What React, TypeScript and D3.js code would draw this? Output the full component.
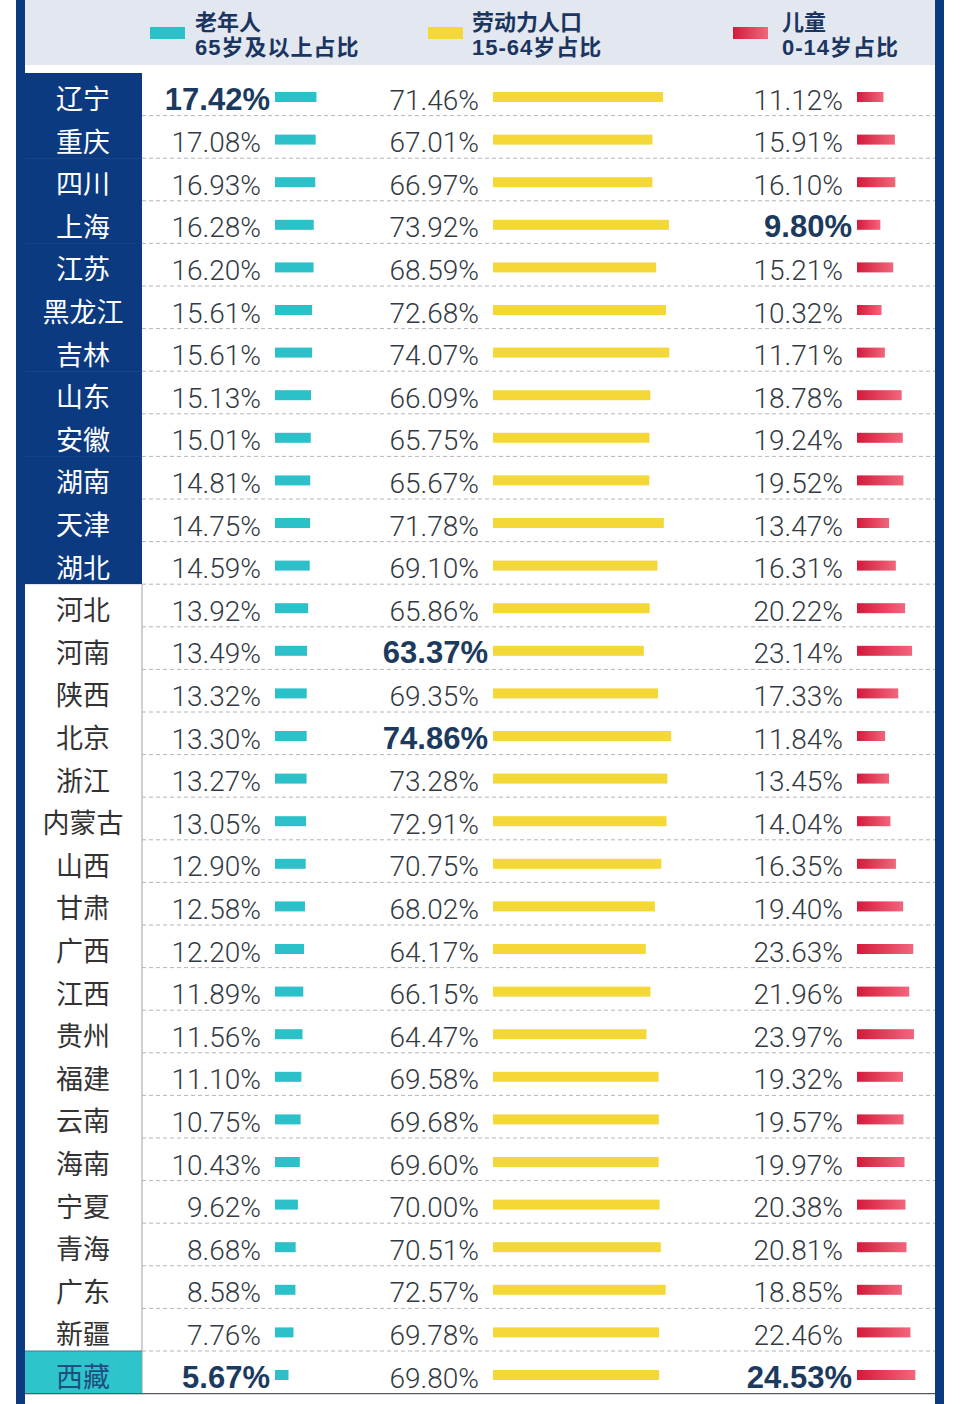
import React from "react";
import * as d3 from "d3";

const provinces = ["辽宁","重庆","四川","上海","江苏","黑龙江","吉林","山东","安徽","湖南","天津","湖北","河北","河南","陕西","北京","浙江","内蒙古","山西","甘肃","广西","江西","贵州","福建","云南","海南","宁夏","青海","广东","新疆","西藏"];
const elderly = [17.42,17.08,16.93,16.28,16.20,15.61,15.61,15.13,15.01,14.81,14.75,14.59,13.92,13.49,13.32,13.30,13.27,13.05,12.90,12.58,12.20,11.89,11.56,11.10,10.75,10.43,9.62,8.68,8.58,7.76,5.67];
const working = [71.46,67.01,66.97,73.92,68.59,72.68,74.07,66.09,65.75,65.67,71.78,69.10,65.86,63.37,69.35,74.86,73.28,72.91,70.75,68.02,64.17,66.15,64.47,69.58,69.68,69.60,70.00,70.51,72.57,69.78,69.80];
const children = [11.12,15.91,16.10,9.80,15.21,10.32,11.71,18.78,19.24,19.52,13.47,16.31,20.22,23.14,17.33,11.84,13.45,14.04,16.35,19.40,23.63,21.96,23.97,19.32,19.57,19.97,20.38,20.81,18.85,22.46,24.53];
const legendTitles = ["老年人", "劳动力人口", "儿童"];
const legendSubtitles = ["65岁及以上占比", "15-64岁占比", "0-14岁占比"];
const highlightedTop = 12; // first 12 provinces in navy cells

const W = 960, H = 1404;
const NAVY = "#0c3a80";
const TEAL = "#2cc0c8";
const YELLOW = "#f4d838";

export default function App() {
  const rowTop = 73, rowH = 42.6;
  const y = d3.scaleBand<string>().domain(provinces).range([rowTop, rowTop + rowH * provinces.length]).padding(0);
  const x = d3.scaleLinear().domain([0, 100]).range([0, 238]);
  const series = [elderly, working, children];
  const barStarts = [275, 493, 857];
  const fills = [TEAL, YELLOW, "url(#redGrad)"];
  const legendRectX = [150, 428, 733];
  const legendTextX = [195, 472, 782];
  const left = 25, right = 935, labelRight = 142;
  const bottom = y.range()[1];
  const headerFont = "'Liberation Sans', 'Noto Sans CJK SC', sans-serif";

  return (
    <svg width={W} height={H} style={{ position: "absolute", left: 0, top: 0, background: "#fff" }}>
      <defs>
        <linearGradient id="redGrad" x1="0" x2="1" y1="0" y2="0">
          <stop offset="0%" stopColor="#d41a3c" />
          <stop offset="100%" stopColor="#f2667c" />
        </linearGradient>
      </defs>
      <rect x={0} y={0} width={W} height={H} fill="#fff" />
      {/* header */}
      <rect x={left} y={0} width={right - left} height={65} fill="#e3e7f0" />
      {legendTitles.map((t, i) => (
        <g key={t}>
          <rect x={legendRectX[i]} y={27} width={35} height={12} fill={i === 2 ? "url(#redGrad)" : i === 0 ? TEAL : YELLOW} />
          <text x={legendTextX[i]} y={30} fontFamily={headerFont} fontWeight={700} fontSize={22} fill="#1a3560">{t}</text>
          <text x={legendTextX[i]} y={55} fontFamily={headerFont} fontWeight={700} fontSize={22} fill="#1a3560" letterSpacing={1}>{legendSubtitles[i]}</text>
        </g>
      ))}
      {/* label column backgrounds */}
      {provinces.map((p, i) => {
        const last = i === provinces.length - 1;
        const bg = i < highlightedTop ? NAVY : last ? "#2ec4cc" : "#fff";
        return <rect key={p} x={left} y={y(p)!} width={labelRight - left} height={y.bandwidth() + 0.5} fill={bg} />;
      })}
      {/* vertical line for white label rows */}
      <line x1={labelRight} x2={labelRight} y1={y(provinces[highlightedTop])!} y2={bottom} stroke="#9aa0a8" strokeWidth={1} />
      {/* dashed separators */}
      {provinces.slice(1).map((p) => (
        <line key={p} x1={labelRight} x2={right} y1={y(p)!} y2={y(p)!} stroke="#b4b6ba" strokeWidth={1} strokeDasharray="4 3" />
      ))}
      <line x1={left} x2={labelRight} y1={y(provinces[provinces.length - 1])!} y2={y(provinces[provinces.length - 1])!} stroke="#3a7f90" strokeWidth={1} />
      <line x1={left} x2={right} y1={bottom} y2={bottom} stroke="#555b63" strokeWidth={1.2} />
      {/* labels */}
      {provinces.map((p, i) => {
        const last = i === provinces.length - 1;
        const color = i < highlightedTop ? "#ffffff" : last ? "#1d4e80" : "#333";
        return (
          <text key={p} x={83} y={y(p)! + 36} textAnchor="middle" fontFamily="'Noto Sans CJK SC', sans-serif" fontSize={27} fill={color}>{p}</text>
        );
      })}
      {/* values and bars */}
      {series.map((vals, s) => {
        const mx = d3.max(vals)!;
        const mn = d3.min(vals)!;
        return (
          <g key={s}>
            {vals.map((v, i) => {
              const top = y(provinces[i])!;
              const bold = v === mx || v === mn;
              return (
                <g key={i}>
                  <rect x={barStarts[s]} y={top + 19} width={x(v)} height={10} fill={fills[s]} />
                  {bold ? (
                    <text x={barStarts[s] - 5} y={top + 36.5} textAnchor="end" fontFamily="'Liberation Sans', Arial, sans-serif" fontWeight={700} fontSize={31} fill="#1c3a5e">{v.toFixed(2)}%</text>
                  ) : (
                    <text x={barStarts[s] - 14} y={top + 36.5} textAnchor="end" fontFamily="Roboto, sans-serif" fontWeight={300} fontSize={28} fill="#333a42">{v.toFixed(2)}%</text>
                  )}
                </g>
              );
            })}
          </g>
        );
      })}
      {/* frame */}
      <rect x={16} y={0} width={9} height={H} fill={NAVY} />
      <rect x={right} y={0} width={9} height={H} fill={NAVY} />
    </svg>
  );
}
